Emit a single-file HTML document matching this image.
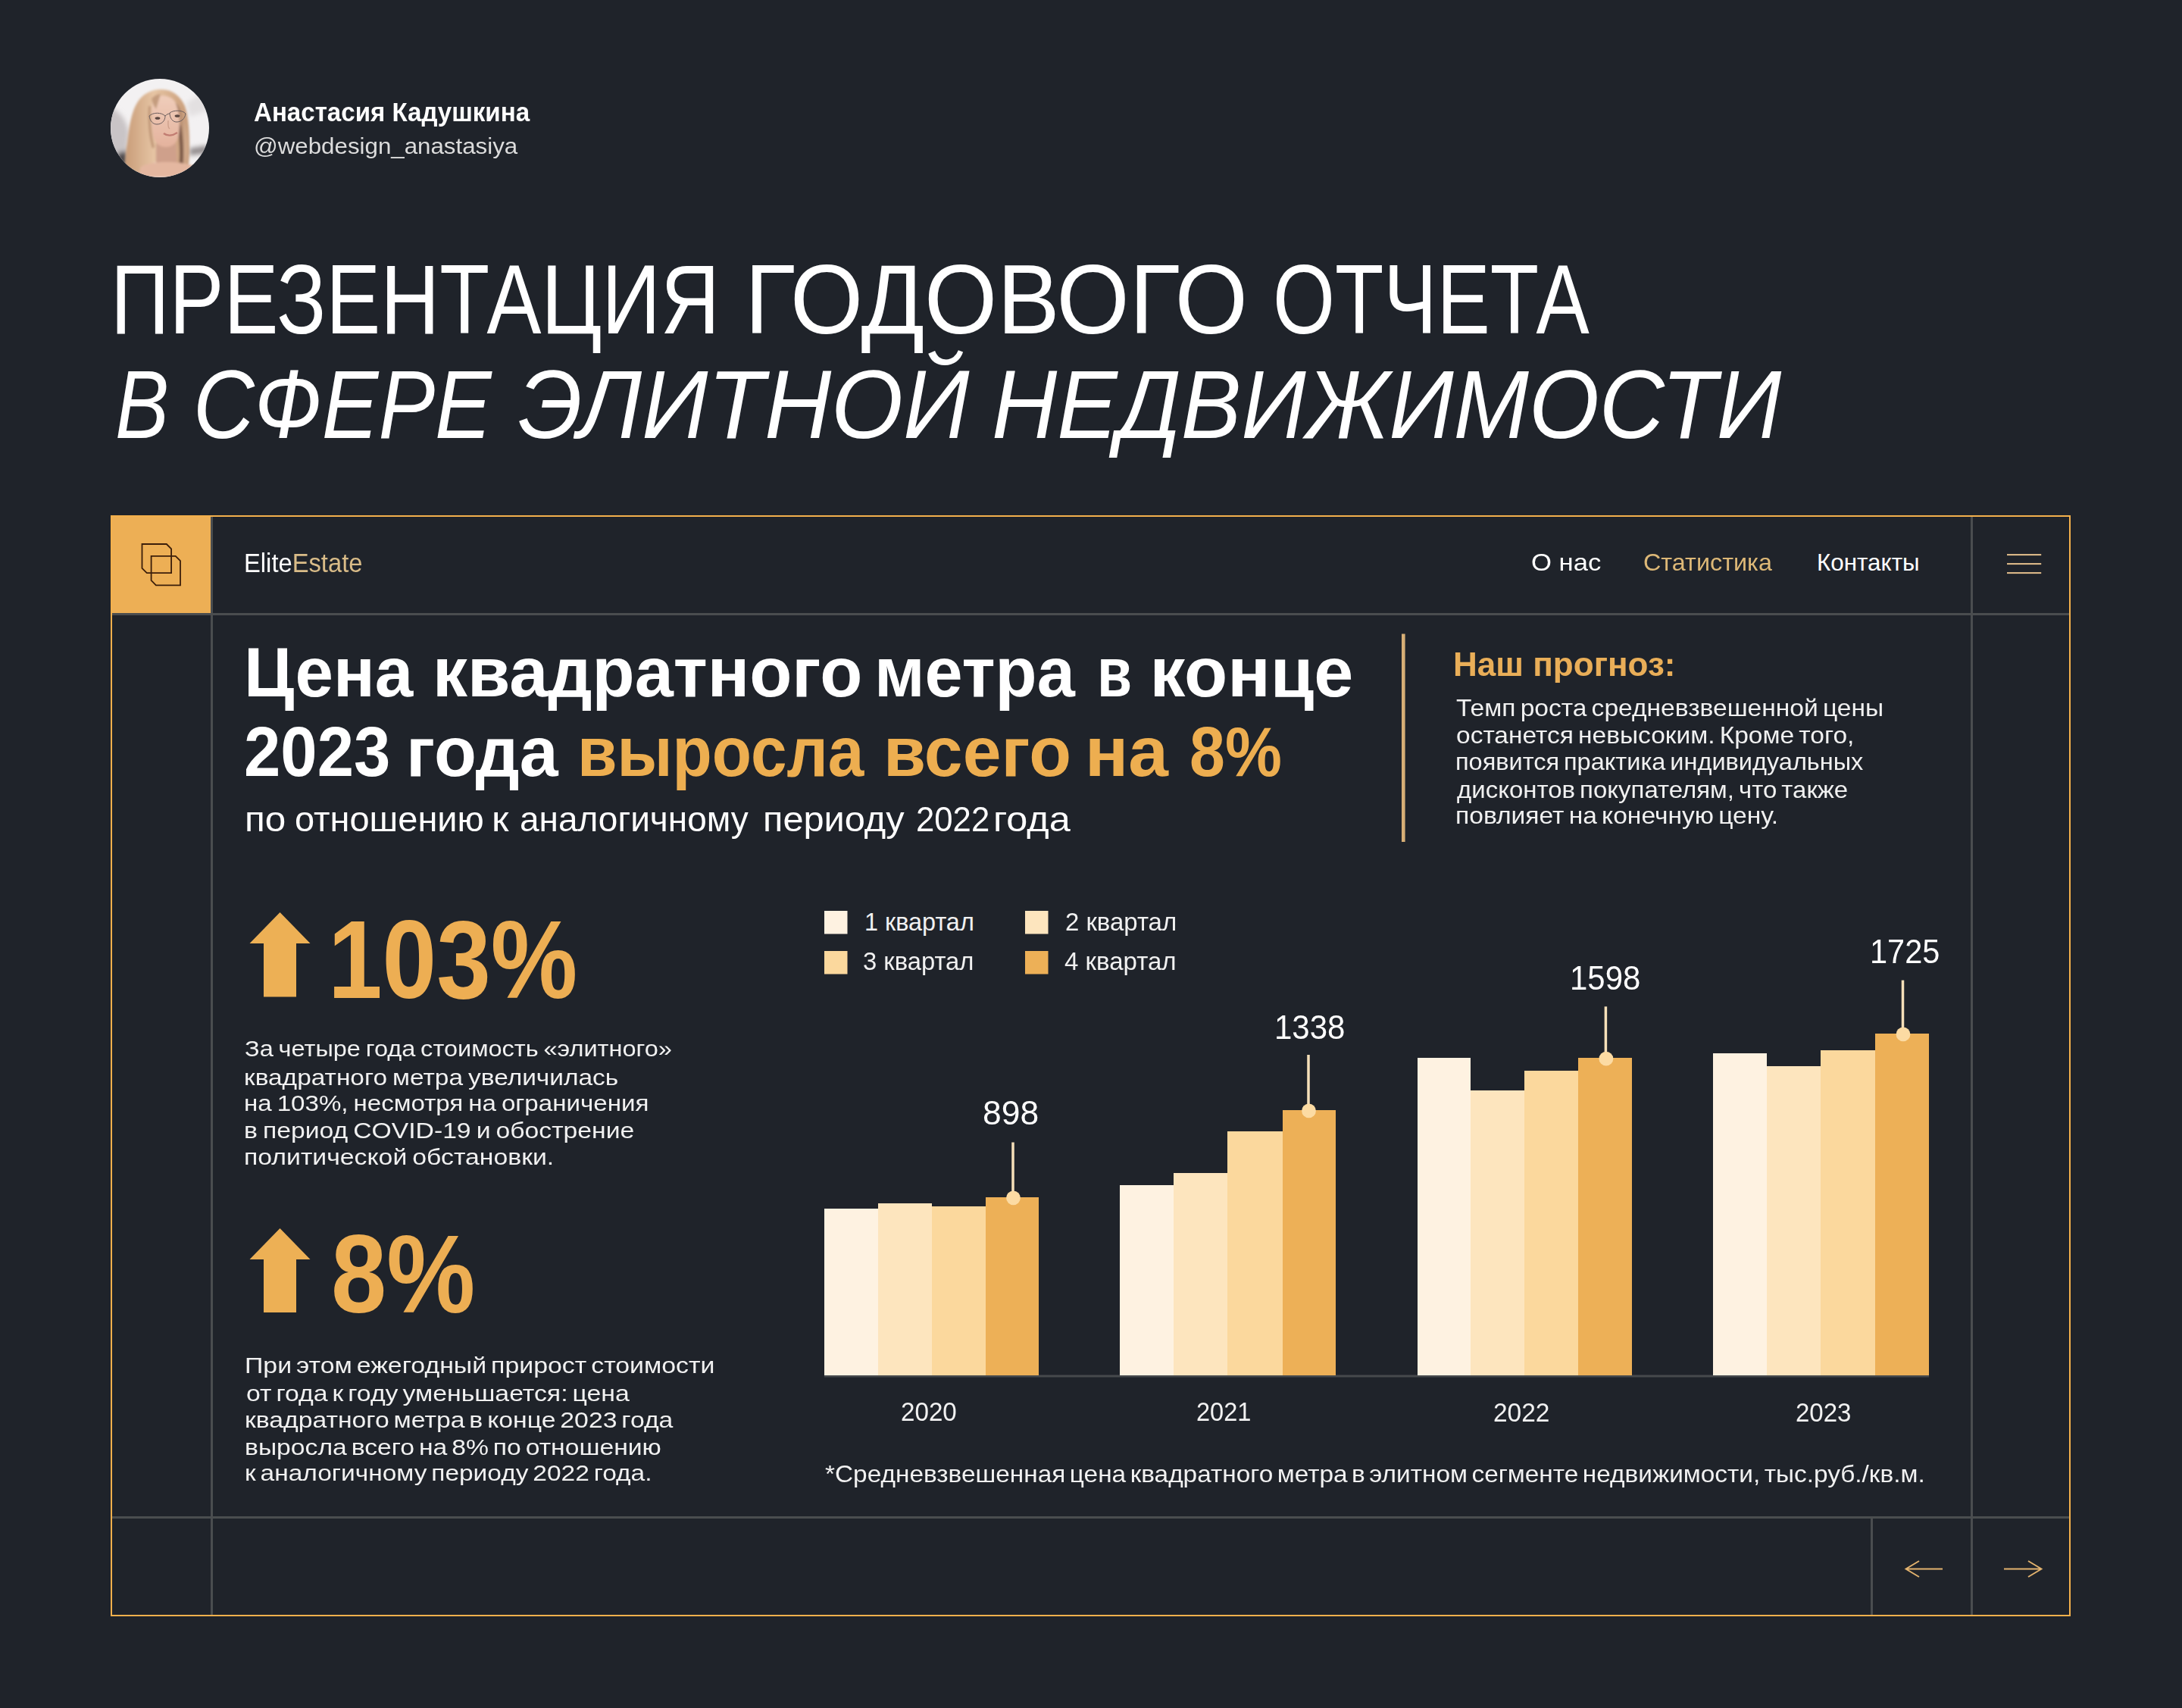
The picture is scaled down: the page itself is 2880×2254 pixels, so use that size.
<!DOCTYPE html>
<html lang="ru"><head><meta charset="utf-8"><title>Презентация годового отчета</title>
<style>
html,body{margin:0;padding:0;background:#1F232A;}
body{width:2880px;height:2254px;position:relative;overflow:hidden;}
.t{position:absolute;white-space:nowrap;transform-origin:0 0;}
svg.g{position:absolute;left:0;top:0;}
</style></head><body>
<svg class="g" width="2880" height="2254" viewBox="0 0 2880 2254">
<rect x="278" y="682" width="3" height="1449" fill="#4A4D4F"/>
<rect x="2601" y="682" width="3" height="1449" fill="#4A4D4F"/>
<rect x="148" y="809" width="2583" height="3" fill="#4A4D4F"/>
<rect x="148" y="2001" width="2583" height="3" fill="#4A4D4F"/>
<rect x="2469" y="2004" width="3" height="127" fill="#4A4D4F"/>
<rect x="146" y="680" width="132" height="129" fill="#EDAF55"/>
<rect x="147" y="681" width="2585" height="1451" fill="none" stroke="#F3B04C" stroke-width="2"/>
<path d="M187.5,718 H219.79999999999998 L226.1,724.3 V756.1 H193.8 L187.5,749.8000000000001 Z M199.6,733.9 H231.7 L238,740.1999999999999 V772.3 H205.9 L199.6,766.0 Z" fill="none" stroke="#3B1E0A" stroke-width="1.8"/>
<rect x="2649" y="731.1" width="45.2" height="2" fill="#E4BF8C"/>
<rect x="2649" y="743.1" width="45.2" height="2" fill="#E4BF8C"/>
<rect x="2649" y="755.1" width="45.2" height="2" fill="#E4BF8C"/>
<rect x="1850" y="836.5" width="4.6" height="274.5" fill="#D7AF76"/>
<path d="M369.5,1204 L409.5,1245 L391,1245 L391,1315.5 L348,1315.5 L348,1245 L329.5,1245 Z" fill="#EDB055"/>
<path d="M369.5,1621 L409.5,1662 L391,1662 L391,1732 L348,1732 L348,1662 L329.5,1662 Z" fill="#EDB055"/>
<rect x="1088" y="1202" width="30.5" height="30.5" fill="#FEF2E1"/>
<rect x="1353" y="1202" width="30.5" height="30.5" fill="#FDE5BE"/>
<rect x="1088" y="1255" width="30.5" height="30.5" fill="#FBD89D"/>
<rect x="1353" y="1255" width="30.5" height="30.5" fill="#EDB057"/>
<rect x="1088" y="1814.5" width="1458" height="3" fill="#46494C"/>
<rect x="1088" y="1594.7" width="71" height="220.3" fill="#FEF2E1" shape-rendering="crispEdges"/>
<rect x="1159" y="1587.9" width="71" height="227.1" fill="#FDE5BE" shape-rendering="crispEdges"/>
<rect x="1230" y="1592.3" width="71" height="222.7" fill="#FBD89D" shape-rendering="crispEdges"/>
<rect x="1301" y="1580" width="70" height="235.0" fill="#EDB057" shape-rendering="crispEdges"/>
<rect x="1478" y="1564.1" width="71" height="250.9" fill="#FEF2E1" shape-rendering="crispEdges"/>
<rect x="1549" y="1547.9" width="71" height="267.1" fill="#FDE5BE" shape-rendering="crispEdges"/>
<rect x="1620" y="1492.9" width="73" height="322.1" fill="#FBD89D" shape-rendering="crispEdges"/>
<rect x="1693" y="1465.1" width="70" height="349.9" fill="#EDB057" shape-rendering="crispEdges"/>
<rect x="1871" y="1396.4" width="70" height="418.6" fill="#FEF2E1" shape-rendering="crispEdges"/>
<rect x="1941" y="1438.8" width="71" height="376.2" fill="#FDE5BE" shape-rendering="crispEdges"/>
<rect x="2012" y="1412.5" width="71" height="402.5" fill="#FBD89D" shape-rendering="crispEdges"/>
<rect x="2083" y="1396.4" width="71" height="418.6" fill="#EDB057" shape-rendering="crispEdges"/>
<rect x="2261" y="1390.4" width="71" height="424.6" fill="#FEF2E1" shape-rendering="crispEdges"/>
<rect x="2332" y="1406.5" width="71" height="408.5" fill="#FDE5BE" shape-rendering="crispEdges"/>
<rect x="2403" y="1386.3" width="72" height="428.7" fill="#FBD89D" shape-rendering="crispEdges"/>
<rect x="2475" y="1364.1" width="71" height="450.9" fill="#EDB057" shape-rendering="crispEdges"/>
<rect x="1335.25" y="1507.5" width="3.5" height="72.5" fill="#F6E0B9"/>
<circle cx="1337.5" cy="1580.8" r="9.4" fill="#FCDBA3"/>
<rect x="1725.25" y="1392" width="3.5" height="73.1" fill="#F6E0B9"/>
<circle cx="1727.5" cy="1465.9" r="9.4" fill="#FCDBA3"/>
<rect x="2117.65" y="1328.3" width="3.5" height="68.1" fill="#F6E0B9"/>
<circle cx="2119.9" cy="1397.2" r="9.4" fill="#FCDBA3"/>
<rect x="2509.75" y="1293.6" width="3.5" height="70.5" fill="#F6E0B9"/>
<circle cx="2512.0" cy="1364.9" r="9.4" fill="#FCDBA3"/>
<path d="M2564,2070.5 H2516 M2533,2060 L2515.5,2070.5 L2533,2081" fill="none" stroke="#E3B36E" stroke-width="1.9"/>
<path d="M2645,2070.5 H2694 M2677,2060 L2694.5,2070.5 L2677,2081" fill="none" stroke="#E3B36E" stroke-width="1.9"/>
</svg>
<svg width="130" height="130" viewBox="0 0 130 130" style="position:absolute;left:146px;top:104px">
<defs><clipPath id="cc"><circle cx="65" cy="65" r="65"/></clipPath>
<filter id="b3" x="-30%" y="-30%" width="160%" height="160%"><feGaussianBlur stdDeviation="3"/></filter>
<filter id="b15" x="-30%" y="-30%" width="160%" height="160%"><feGaussianBlur stdDeviation="1.4"/></filter>
<filter id="b06" x="-30%" y="-30%" width="160%" height="160%"><feGaussianBlur stdDeviation="0.6"/></filter>
<linearGradient id="hairL" x1="0" y1="0" x2="1" y2="0"><stop offset="0" stop-color="#C89C78"/><stop offset="0.45" stop-color="#E6C4A3"/><stop offset="1" stop-color="#C79A76"/></linearGradient>
<linearGradient id="hairR" x1="0" y1="0" x2="1" y2="0"><stop offset="0" stop-color="#8A6350"/><stop offset="0.5" stop-color="#B88E70"/><stop offset="1" stop-color="#D8B395"/></linearGradient>
<linearGradient id="face" x1="0" y1="0" x2="0" y2="1"><stop offset="0" stop-color="#EFCDBA"/><stop offset="1" stop-color="#E4B29D"/></linearGradient>
</defs>
<g clip-path="url(#cc)">
<rect width="130" height="130" fill="#F3F1F2"/>
<g filter="url(#b3)">
<path d="M-5,35 C8,40 20,50 24,70 L22,100 L-5,100 Z" fill="#C9C4C6"/>
<path d="M100,32 L135,8 L135,40 L104,50 Z" fill="#E3E0E1"/>
<path d="M104,92 L128,88 L128,98 L104,101 Z" fill="#8F898A"/>
<path d="M8,98 L22,95 L24,115 L10,118 Z" fill="#4E4A4B"/>
</g>
<g filter="url(#b15)">
<path d="M65,14 C80,13 92,22 98,36 C103,50 104,70 104,90 C104,105 103,115 101,125 L90,128 L80,110 L58,110 L44,130 L20,130 C18,118 19,100 22,84 C25,60 28,38 40,25 C47,18 56,14 65,14 Z" fill="url(#hairL)"/>
<path d="M84,30 C94,38 100,55 101,80 C102,100 100,115 97,125 L90,125 C92,105 92,80 88,58 C87,48 85,38 84,30 Z" fill="url(#hairR)"/>
<path d="M88,60 C91,80 92,100 90,118 L95,118 C97,100 96,80 93,62 Z" fill="#6E4D40" opacity="0.8"/>
<path d="M56,26 C64,20 78,21 85,30 C91,42 92,60 90,74 C88,84 82,90 74,91 C66,91 60,86 57,78 C54,66 53,45 56,26 Z" fill="url(#face)"/>
<path d="M60,84 C66,92 80,92 86,84 L88,112 L60,114 Z" fill="#CFA08B"/>
<path d="M53,36 C52,55 54,75 58,90 L55,92 C50,75 49,55 50,36 Z" fill="#B08566" opacity="0.7"/>
<path d="M40,116 C55,108 85,108 108,114 L112,130 L36,130 Z" fill="#E4B7A0"/>
<path d="M54,26 C58,22 62,20 66,20 L60,40 C57,36 55,31 54,26 Z" fill="#C49C7E"/>
</g>
<g filter="url(#b06)" fill="none" stroke="#6A5C5C" stroke-width="1">
<path d="M51,49 C56,44 67,44 72,49 C72,56 67,60 61,60 C56,60 52,56 51,49 Z"/>
<path d="M78,45 C83,41 95,41 99,46 C98,53 93,57 87,57 C82,57 78,52 78,45 Z"/>
<path d="M72,49 C74,47 76,46 78,46"/>
</g>
<g filter="url(#b06)">
<ellipse cx="62" cy="52" rx="3.4" ry="1.8" fill="#5A4640"/>
<ellipse cx="88" cy="49" rx="3.4" ry="1.8" fill="#5A4640"/>
<path d="M70,72 C75,76 82,75 88,71" fill="none" stroke="#C27D72" stroke-width="2.4"/>
<path d="M76,55 C76,60 75,64 78,66" fill="none" stroke="#CFA08C" stroke-width="1.4"/>
</g>
</g></svg>
<span class="t" style="left:335.0px;top:131px;font:normal 700 34.45px/34.45px 'Liberation Sans', sans-serif;color:#FFFFFF;transform:scaleX(0.9604);">Анастасия Кадушкина</span>
<span class="t" style="left:335.2px;top:178px;font:normal 400 29.50px/29.50px 'Liberation Sans', sans-serif;color:#DCDCDC;transform:scaleX(1.0602);">@webdesign_anastasiya</span>
<span class="t" style="left:146.2px;top:331px;font:normal 400 129.65px/129.65px 'Liberation Sans', sans-serif;color:#FFFFFF;transform:scaleX(0.8325);">ПРЕЗЕНТАЦИЯ</span>
<span class="t" style="left:983.1px;top:331px;font:normal 400 129.65px/129.65px 'Liberation Sans', sans-serif;color:#FFFFFF;transform:scaleX(0.9535);">ГОДОВОГО</span>
<span class="t" style="left:1680.3px;top:331px;font:normal 400 129.65px/129.65px 'Liberation Sans', sans-serif;color:#FFFFFF;transform:scaleX(0.8126);">ОТЧЕТА</span>
<span class="t" style="left:151.8px;top:470px;font:italic 400 128.63px/128.63px 'Liberation Sans', sans-serif;color:#FFFFFF;transform:scaleX(0.8282);">В</span>
<span class="t" style="left:254.9px;top:470px;font:italic 400 128.63px/128.63px 'Liberation Sans', sans-serif;color:#FFFFFF;transform:scaleX(0.8702);">СФЕРЕ</span>
<span class="t" style="left:683.5px;top:470px;font:italic 400 128.63px/128.63px 'Liberation Sans', sans-serif;color:#FFFFFF;transform:scaleX(0.9494);">ЭЛИТНОЙ</span>
<span class="t" style="left:1309.3px;top:470px;font:italic 400 128.63px/128.63px 'Liberation Sans', sans-serif;color:#FFFFFF;transform:scaleX(0.9277);">НЕДВИЖИМОСТИ</span>
<span class="t" style="left:322.2px;top:726px;font:normal 400 34.59px/34.59px 'Liberation Sans', sans-serif;color:#FFFFFF;transform:scaleX(0.9466);">Elite<span style="color:#D9BC88">Estate</span></span>
<span class="t" style="left:2021.1px;top:727px;font:normal 400 31.40px/31.40px 'Liberation Sans', sans-serif;color:#FFFFFF;transform:scaleX(1.1037);">О нас</span>
<span class="t" style="left:2168.6px;top:727px;font:normal 400 31.40px/31.40px 'Liberation Sans', sans-serif;color:#DDB877;transform:scaleX(1.0305);">Статистика</span>
<span class="t" style="left:2398.0px;top:727px;font:normal 400 31.40px/31.40px 'Liberation Sans', sans-serif;color:#FFFFFF;">Контакты</span>
<span class="t" style="left:321.9px;top:840px;font:normal 700 93.60px/93.60px 'Liberation Sans', sans-serif;color:#FFFFFF;transform:scaleX(0.9698);">Цена</span>
<span class="t" style="left:571.1px;top:840px;font:normal 700 93.60px/93.60px 'Liberation Sans', sans-serif;color:#FFFFFF;transform:scaleX(0.9812);">квадратного</span>
<span class="t" style="left:1153.6px;top:840px;font:normal 700 93.60px/93.60px 'Liberation Sans', sans-serif;color:#FFFFFF;transform:scaleX(0.9622);">метра</span>
<span class="t" style="left:1448.1px;top:840px;font:normal 700 93.60px/93.60px 'Liberation Sans', sans-serif;color:#FFFFFF;transform:scaleX(0.8021);">в</span>
<span class="t" style="left:1517.5px;top:840px;font:normal 700 93.60px/93.60px 'Liberation Sans', sans-serif;color:#FFFFFF;">конце</span>
<span class="t" style="left:322.2px;top:945px;font:normal 700 93.60px/93.60px 'Liberation Sans', sans-serif;color:#FFFFFF;transform:scaleX(0.9282);">2023</span>
<span class="t" style="left:535.5px;top:945px;font:normal 700 93.60px/93.60px 'Liberation Sans', sans-serif;color:#FFFFFF;transform:scaleX(0.9780);">года</span>
<span class="t" style="left:762.0px;top:945px;font:normal 700 93.60px/93.60px 'Liberation Sans', sans-serif;color:#EDAE50;transform:scaleX(0.9137);">выросла</span>
<span class="t" style="left:1165.7px;top:945px;font:normal 700 93.60px/93.60px 'Liberation Sans', sans-serif;color:#EDAE50;transform:scaleX(0.9755);">всего</span>
<span class="t" style="left:1431.8px;top:945px;font:normal 700 93.60px/93.60px 'Liberation Sans', sans-serif;color:#EDAE50;transform:scaleX(1.0126);">на</span>
<span class="t" style="left:1570.0px;top:945px;font:normal 700 93.60px/93.60px 'Liberation Sans', sans-serif;color:#EDAE50;transform:scaleX(0.9008);">8%</span>
<span class="t" style="left:323.1px;top:1058px;font:normal 400 46.22px/46.22px 'Liberation Sans', sans-serif;color:#FFFFFF;transform:scaleX(1.0696);">по</span>
<span class="t" style="left:388.6px;top:1058px;font:normal 400 46.22px/46.22px 'Liberation Sans', sans-serif;color:#FFFFFF;transform:scaleX(1.0157);">отношению</span>
<span class="t" style="left:649.4px;top:1058px;font:normal 400 46.22px/46.22px 'Liberation Sans', sans-serif;color:#FFFFFF;transform:scaleX(1.1118);">к</span>
<span class="t" style="left:686.0px;top:1058px;font:normal 400 46.22px/46.22px 'Liberation Sans', sans-serif;color:#FFFFFF;transform:scaleX(0.9944);">аналогичному</span>
<span class="t" style="left:1007.0px;top:1058px;font:normal 400 46.22px/46.22px 'Liberation Sans', sans-serif;color:#FFFFFF;transform:scaleX(1.0546);">периоду</span>
<span class="t" style="left:1208.5px;top:1058px;font:normal 400 46.22px/46.22px 'Liberation Sans', sans-serif;color:#FFFFFF;transform:scaleX(0.9455);">2022</span>
<span class="t" style="left:1311.0px;top:1058px;font:normal 400 46.22px/46.22px 'Liberation Sans', sans-serif;color:#FFFFFF;transform:scaleX(1.0911);">года</span>
<span class="t" style="left:1917.9px;top:854px;font:normal 700 45.06px/45.06px 'Liberation Sans', sans-serif;color:#E9AE58;transform:scaleX(0.9778);">Наш прогноз:</span>
<span class="t" style="left:1921.8px;top:918px;font:normal 400 31.98px/31.98px 'Liberation Sans', sans-serif;color:#F1F1F1;transform:scaleX(1.0496);word-spacing:-3px;">Темп роста средневзвешенной цены</span>
<span class="t" style="left:1921.8px;top:954px;font:normal 400 31.98px/31.98px 'Liberation Sans', sans-serif;color:#F1F1F1;transform:scaleX(1.0480);word-spacing:-3px;">останется невысоким. Кроме того,</span>
<span class="t" style="left:1920.8px;top:989px;font:normal 400 31.98px/31.98px 'Liberation Sans', sans-serif;color:#F1F1F1;transform:scaleX(1.0165);word-spacing:-3px;">появится практика индивидуальных</span>
<span class="t" style="left:1922.8px;top:1026px;font:normal 400 31.98px/31.98px 'Liberation Sans', sans-serif;color:#F1F1F1;transform:scaleX(1.0313);word-spacing:-3px;">дисконтов покупателям, что также</span>
<span class="t" style="left:1920.7px;top:1060px;font:normal 400 31.98px/31.98px 'Liberation Sans', sans-serif;color:#F1F1F1;transform:scaleX(1.0511);word-spacing:-3px;">повлияет на конечную цену.</span>
<span class="t" style="left:433.1px;top:1193px;font:normal 700 146.65px/146.65px 'Liberation Sans', sans-serif;color:#EDAE53;transform:scaleX(0.8779);">103%</span>
<span class="t" style="left:322.9px;top:1369px;font:normal 400 29.36px/29.36px 'Liberation Sans', sans-serif;color:#F1F1F1;transform:scaleX(1.1075);word-spacing:-2px;">За четыре года стоимость «элитного»</span>
<span class="t" style="left:321.7px;top:1407px;font:normal 400 29.36px/29.36px 'Liberation Sans', sans-serif;color:#F1F1F1;transform:scaleX(1.1390);word-spacing:-2px;">квадратного метра увеличилась</span>
<span class="t" style="left:321.7px;top:1441px;font:normal 400 29.36px/29.36px 'Liberation Sans', sans-serif;color:#F1F1F1;transform:scaleX(1.1277);word-spacing:-2px;">на 103%, несмотря на ограничения</span>
<span class="t" style="left:321.7px;top:1477px;font:normal 400 29.36px/29.36px 'Liberation Sans', sans-serif;color:#F1F1F1;transform:scaleX(1.1475);word-spacing:-2px;">в период COVID-19 и обострение</span>
<span class="t" style="left:321.7px;top:1512px;font:normal 400 29.36px/29.36px 'Liberation Sans', sans-serif;color:#F1F1F1;transform:scaleX(1.1501);word-spacing:-2px;">политической обстановки.</span>
<span class="t" style="left:437.4px;top:1608px;font:normal 700 146.65px/146.65px 'Liberation Sans', sans-serif;color:#EDAE53;transform:scaleX(0.8971);">8%</span>
<span class="t" style="left:323.4px;top:1787px;font:normal 400 29.36px/29.36px 'Liberation Sans', sans-serif;color:#F1F1F1;transform:scaleX(1.1534);word-spacing:-3px;">При этом ежегодный прирост стоимости</span>
<span class="t" style="left:324.5px;top:1824px;font:normal 400 29.36px/29.36px 'Liberation Sans', sans-serif;color:#F1F1F1;transform:scaleX(1.1510);word-spacing:-3px;">от года к году уменьшается: цена</span>
<span class="t" style="left:323.4px;top:1859px;font:normal 400 29.36px/29.36px 'Liberation Sans', sans-serif;color:#F1F1F1;transform:scaleX(1.1490);word-spacing:-3px;">квадратного метра в конце 2023 года</span>
<span class="t" style="left:323.4px;top:1895px;font:normal 400 29.36px/29.36px 'Liberation Sans', sans-serif;color:#F1F1F1;transform:scaleX(1.1471);word-spacing:-3px;">выросла всего на 8% по отношению</span>
<span class="t" style="left:323.4px;top:1929px;font:normal 400 29.36px/29.36px 'Liberation Sans', sans-serif;color:#F1F1F1;transform:scaleX(1.1403);word-spacing:-3px;">к аналогичному периоду 2022 года.</span>
<span class="t" style="left:1141.0px;top:1201px;font:normal 400 32.41px/32.41px 'Liberation Sans', sans-serif;color:#F1F1F1;">1 квартал</span>
<span class="t" style="left:1405.5px;top:1201px;font:normal 400 32.41px/32.41px 'Liberation Sans', sans-serif;color:#F1F1F1;transform:scaleX(1.0162);">2 квартал</span>
<span class="t" style="left:1139.4px;top:1253px;font:normal 400 32.41px/32.41px 'Liberation Sans', sans-serif;color:#F1F1F1;transform:scaleX(1.0113);">3 квартал</span>
<span class="t" style="left:1405.0px;top:1253px;font:normal 400 32.41px/32.41px 'Liberation Sans', sans-serif;color:#F1F1F1;transform:scaleX(1.0197);">4 квартал</span>
<span class="t" style="left:2467.5px;top:1234px;font:normal 400 44.86px/44.86px 'Liberation Sans', sans-serif;color:#FFFFFF;transform:scaleX(0.9253);">1725</span>
<span class="t" style="left:2072.2px;top:1269px;font:normal 400 44.86px/44.86px 'Liberation Sans', sans-serif;color:#FFFFFF;transform:scaleX(0.9347);">1598</span>
<span class="t" style="left:1682.1px;top:1334px;font:normal 400 44.86px/44.86px 'Liberation Sans', sans-serif;color:#FFFFFF;transform:scaleX(0.9368);">1338</span>
<span class="t" style="left:1297.0px;top:1447px;font:normal 400 44.86px/44.86px 'Liberation Sans', sans-serif;color:#FFFFFF;transform:scaleX(0.9901);">898</span>
<span class="t" style="left:1189.1px;top:1846px;font:normal 400 34.21px/34.21px 'Liberation Sans', sans-serif;color:#F1F1F1;transform:scaleX(0.9699);">2020</span>
<span class="t" style="left:1578.7px;top:1846px;font:normal 400 34.21px/34.21px 'Liberation Sans', sans-serif;color:#F1F1F1;transform:scaleX(0.9507);">2021</span>
<span class="t" style="left:1971.4px;top:1847px;font:normal 400 34.21px/34.21px 'Liberation Sans', sans-serif;color:#F1F1F1;transform:scaleX(0.9781);">2022</span>
<span class="t" style="left:2369.6px;top:1847px;font:normal 400 34.21px/34.21px 'Liberation Sans', sans-serif;color:#F1F1F1;transform:scaleX(0.9658);">2023</span>
<span class="t" style="left:1088.6px;top:1931px;font:normal 400 30.96px/30.96px 'Liberation Sans', sans-serif;color:#F1F1F1;transform:scaleX(1.0782);word-spacing:-3.5px;">*Средневзвешенная цена квадратного метра в элитном сегменте недвижимости, тыс.руб./кв.м.</span>
</body></html>
